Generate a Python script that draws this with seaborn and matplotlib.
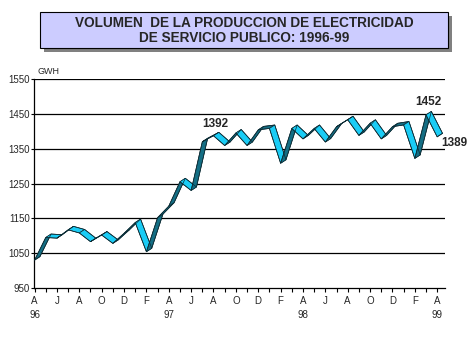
import numpy as np
import seaborn as sns
import matplotlib.pyplot as plt
from matplotlib.patches import Rectangle, Polygon

# monthly output, April 1996 .. April 1999 (GWH)
months = ["A", "M", "J", "J", "A", "S", "O", "N", "D", "E", "F", "M"]
years = ["96", "97", "98", "99"]
produccion = [1035, 1100, 1098, 1122, 1113, 1088, 1107, 1083, 1112,
              1143, 1059, 1157, 1190, 1260, 1235, 1375, 1392, 1364, 1400, 1364, 1409,
              1413, 1313, 1413, 1383, 1413, 1374, 1418, 1438, 1393, 1428, 1383, 1418,
              1423, 1327, 1452, 1389]
etiquetas = {16: "1392", 35: "1452", 36: "1389"}

sns.set_style("white")
plt.rcParams['font.family'] = ['Liberation Sans', 'DejaVu Sans']

W, H = 477, 356
fig = plt.figure(figsize=(W / 100, H / 100), dpi=100)
ax = fig.add_axes([34 / W, 68 / H, 411 / W, 209 / H])

n = len(produccion)
x = np.arange(n)
y = np.array(produccion, dtype=float)

# ribbon depth (3D look): back edge shifted right and up
dx, dy = 0.48, 10.0
front_y = y - 5
back_x, back_y = x + dx, front_y + dy

light, dark = "#1ACCF5", "#146E84"
for i in range(n - 1):
    quad = [(x[i], front_y[i]), (x[i + 1], front_y[i + 1]),
            (back_x[i + 1], back_y[i + 1]), (back_x[i], back_y[i])]
    col = dark if y[i + 1] >= y[i] else light
    ax.add_patch(Polygon(quad, closed=True, facecolor=col, edgecolor="#0A2A33",
                         linewidth=0.5, zorder=3))
# end caps
for i in (0, n - 1):
    ax.plot([x[i], back_x[i]], [front_y[i], back_y[i]], color="#0A2A33", lw=0.6, zorder=4)

sns.lineplot(x=x, y=front_y, ax=ax, color="#0A2A33", lw=0.5, zorder=4)
sns.lineplot(x=back_x, y=back_y, ax=ax, color="#0A2A33", lw=0.5, zorder=4)

# gridlines
for v in range(1050, 1551, 100):
    ax.axhline(v, color="black", lw=0.9, zorder=1)

ax.set_xlim(-0.05, 36.7)
ax.set_ylim(950, 1550)
ax.set_yticks(range(950, 1551, 100))
ax.set_yticklabels([str(v) for v in range(950, 1551, 100)], fontsize=7)

labels = []
for i in range(0, n, 2):
    m = months[i % 12]
    lab = m
    if i % 12 == 0:
        lab = m + "\n" + years[i // 12]
    labels.append(lab)
ax.set_xticks(range(0, n, 2))
ax.set_xticklabels(labels, fontsize=7, linespacing=1.4, va="top")
ax.set_xticks(range(1, n, 2), minor=True)
ax.tick_params(axis="x", which="both", direction="out", length=3, width=0.8,
               color="black", pad=3, bottom=True)
ax.tick_params(axis="y", direction="out", length=2, width=0.8, color="black", pad=1, left=True)

for s in ["top", "right"]:
    ax.spines[s].set_visible(False)
for s in ["left", "bottom"]:
    ax.spines[s].set_color("black")
    ax.spines[s].set_linewidth(0.9)
ax.set_xlabel("")
ax.set_ylabel("")

# data labels
ax.annotate(etiquetas[16], (16, y[16]), xytext=(1, 3), textcoords="offset points",
            ha="center", va="bottom", fontsize=8.5, fontweight="bold", zorder=6)
ax.annotate(etiquetas[35], (35, y[35]), xytext=(2, 4), textcoords="offset points",
            ha="center", va="bottom", fontsize=8.5, fontweight="bold", zorder=6)
ax.annotate(etiquetas[36], (36, y[36]), xytext=(3, -6), textcoords="offset points",
            ha="left", va="center", fontsize=8.5, fontweight="bold", zorder=6,
            annotation_clip=False)

fig.text(38 / W, 1 - 72 / H, "GWH", fontsize=6.5, ha="left", va="center")

# title box with shadow
fig.patches.append(Rectangle((44 / W, 1 - 52 / H), 408 / W, 36 / H, transform=fig.transFigure,
                             facecolor="#808080", edgecolor="none", zorder=1))
fig.patches.append(Rectangle((40 / W, 1 - 48 / H), 408 / W, 36 / H, transform=fig.transFigure,
                             facecolor="#CCCCFF", edgecolor="black", lw=0.8, zorder=2))
fig.text(244 / W, 1 - 23 / H, "VOLUMEN  DE LA PRODUCCION DE ELECTRICIDAD",
         ha="center", va="center", fontsize=9.8, fontweight="bold", zorder=3)
fig.text(244 / W, 1 - 38.5 / H, "DE SERVICIO PUBLICO: 1996-99",
         ha="center", va="center", fontsize=9.8, fontweight="bold", zorder=3)

fig.savefig("out.png", dpi=100, facecolor="white")
